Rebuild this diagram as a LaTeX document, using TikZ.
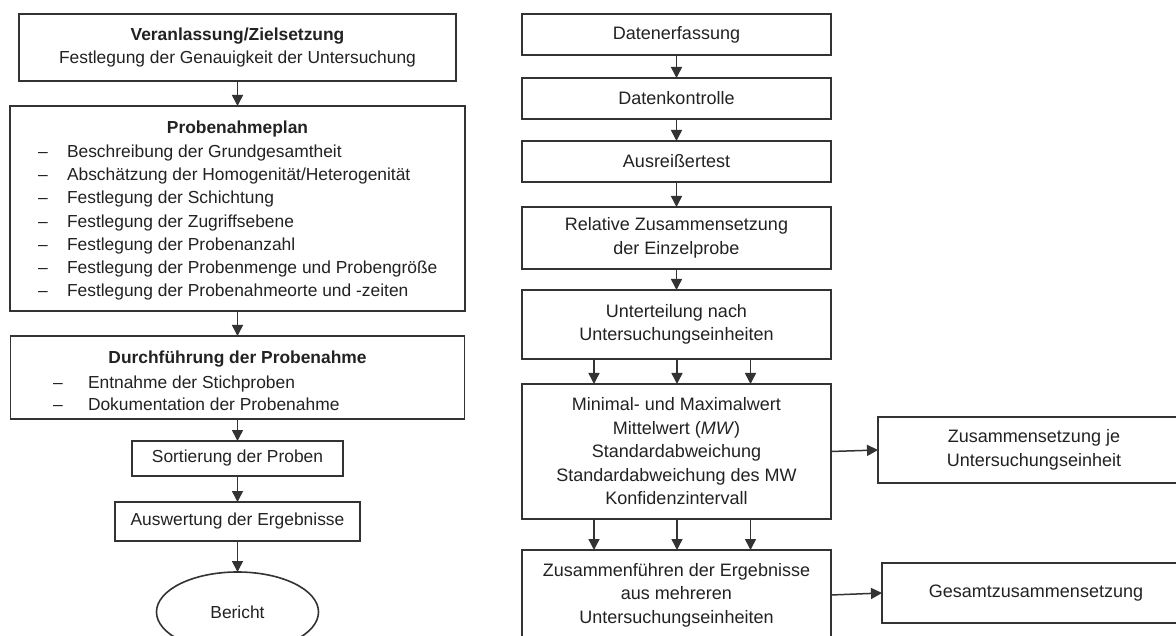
\documentclass[tikz,border=0pt]{standalone}
\usepackage{fontspec}
\setmainfont{Liberation Sans}
\usetikzlibrary{arrows.meta,shapes.geometric}
\definecolor{linec}{HTML}{333333}
\definecolor{txtc}{HTML}{222222}
\newcommand{\fsL}{\fontsize{17.4}{23.2}\selectfont}
\newcommand{\fsR}{\fontsize{18}{23.5}\selectfont}
\begin{document}
\begin{tikzpicture}[x=1pt,y=-1pt,
  box/.style={draw=linec, line width=1.6pt, inner sep=0pt, outer sep=0pt, align=center, text=txtc},
  lbox/.style={box, font=\fsL},
  rbox/.style={box, font=\fsR, minimum width=309pt},
  txt/.style={inner sep=0pt, outer sep=0pt, text=txtc, font=\fsL},
  arr/.style={draw=linec, line width=1.5pt, -{Triangle[length=11pt,width=11pt]}}]
\useasboundingbox (0,0) rectangle (1176,636);
\clip (0,0) rectangle (1176,636);
\fill[white] (0,0) rectangle (1176,636);

% ---------- left column ----------
\node[lbox, minimum width=437pt, minimum height=67pt] (v1) at (237.5,47.5)
  {\textbf{Veranlassung/Zielsetzung}\\Festlegung der Genauigkeit der Untersuchung};

\node[lbox, minimum width=455pt, minimum height=205pt] (plan) at (237.5,208.5) {};
\node[txt, anchor=base, font=\fsL\bfseries] (planT) at (237.5,134) {Probenahmeplan};
\foreach \t [count=\i] in {Beschreibung der Grundgesamtheit,
  Abschätzung der Homogenität/Heterogenität,
  Festlegung der Schichtung,
  Festlegung der Zugriffsebene,
  Festlegung der Probenanzahl,
  Festlegung der Probenmenge und Probengröße,
  Festlegung der Probenahmeorte und -zeiten}{
  \node[txt, anchor=base west] (pd\i) at (38,{157.5+23.2*(\i-1)}) {–};
  \node[txt, anchor=base west] (pi\i) at (67,{157.5+23.2*(\i-1)}) {\t};
}

\node[lbox, minimum width=454pt, minimum height=83pt] (durch) at (237.5,377.5) {};
\node[txt, anchor=base, font=\fsL\bfseries] (durchT) at (237.5,363.5) {Durchführung der Probenahme};
\node[txt, anchor=base west] (dd1) at (53,388.5) {–};
\node[txt, anchor=base west] (di1) at (88,388.5) {Entnahme der Stichproben};
\node[txt, anchor=base west] (dd2) at (53,410.5) {–};
\node[txt, anchor=base west] (di2) at (88,410.5) {Dokumentation der Probenahme};

\node[lbox, minimum width=211pt, minimum height=35pt] (sort) at (237.5,458.5) {Sortierung der Proben};
\node[lbox, minimum width=245pt, minimum height=39pt] (ausw) at (237.5,521.5) {Auswertung der Ergebnisse};
\node[box, ellipse, font=\fsL, minimum width=162pt, minimum height=80pt] (ber) at (237.5,612) {Bericht};

\draw[arr] (v1) -- (plan);
\draw[arr] (plan) -- (durch);
\draw[arr] (durch) -- (sort);
\draw[arr] (sort) -- (ausw);
\draw[arr] (ausw) -- (ber);

% ---------- right column ----------
\node[rbox, minimum height=41pt] (d1) at (676.5,34.5) {Datenerfassung};
\node[rbox, minimum height=41pt] (d2) at (676.5,98.5) {Datenkontrolle};
\node[rbox, minimum height=41pt] (d3) at (676.5,161.5) {Ausreißertest};
\node[rbox, minimum height=62pt] (d4) at (676.5,238) {Relative Zusammensetzung\\der Einzelprobe};
\node[rbox, minimum height=69pt] (d5) at (676.5,324.5) {Unterteilung nach\\Untersuchungseinheiten};
\node[rbox, minimum height=135pt] (d6) at (676.5,451.5)
  {Minimal- und Maximalwert\\Mittelwert (\textit{MW})\\Standardabweichung\\Standardabweichung des MW\\Konfidenzintervall};
\node[rbox, minimum height=90pt] (d7) at (676.5,595)
  {Zusammenführen der Ergebnisse\\aus mehreren\\Untersuchungseinheiten};

\node[box, font=\fsR, minimum width=312pt, minimum height=66pt] (z1) at (1034,450)
  {Zusammensetzung je\\Untersuchungseinheit};
\node[box, font=\fsR, minimum width=308pt, minimum height=60pt] (g1) at (1036,593)
  {Gesamtzusammensetzung};

\draw[arr] (d1) -- (d2);
\draw[arr] (d2) -- (d3);
\draw[arr] (d3) -- (d4);
\draw[arr] (d4) -- (d5);
\foreach \dx [count=\k] in {-82.5,0.5,74}{
  \draw[arr] ([xshift=\dx pt]d5.south) -- ([xshift=\dx pt]d6.north);
  \draw[arr] ([xshift=\dx pt]d6.south) -- ([xshift=\dx pt]d7.north);
}
\draw[arr] (d6.east) -- (z1.west);
\draw[arr] (d7.east) -- (g1.west);
\end{tikzpicture}
\end{document}
